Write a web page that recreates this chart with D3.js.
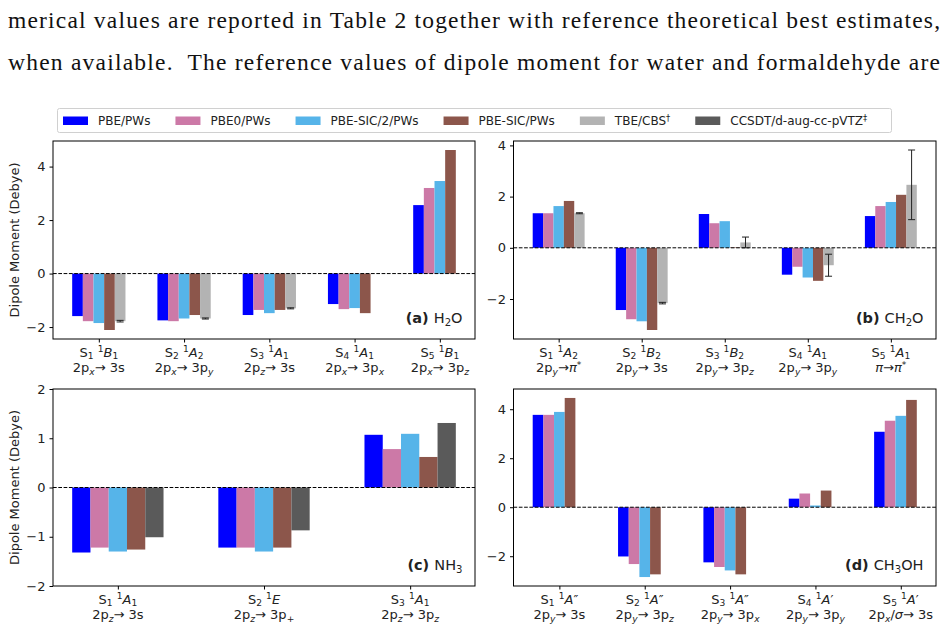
<!DOCTYPE html>
<html>
<head>
<meta charset="utf-8">
<script src="https://cdn.jsdelivr.net/npm/d3@7"></script>
<style>
  body { margin: 0; background: #fff; }
  text { white-space: pre; }
</style>
</head>
<body>
<script>
// series names and colours
const seriesNames = ["PBE/PWs", "PBE0/PWs", "PBE-SIC/2/PWs", "PBE-SIC/PWs", "TBE/CBS^†", "CCSDT/d-aug-cc-pVTZ^‡"];
const seriesColors = ["#0000ff", "#cc79a7", "#56b4e9", "#8c564b", "#b3b3b3", "#5a5a5a"];

// (a) H2O
const h2oLabels = [["S_1 ^1$B$_1", "2p_x→ 3s"], ["S_2 ^1$A$_2", "2p_x→ 3p_y"], ["S_3 ^1$A$_1", "2p_z→ 3s"],
                   ["S_4 ^1$A$_1", "2p_x→ 3p_x"], ["S_5 ^1$B$_1", "2p_x→ 3p_z"]];
const h2oPBE  = [-1.59, -1.75, -1.55, -1.14, 2.56];
const h2oPBE0 = [-1.78, -1.78, -1.36, -1.33, 3.20];
const h2oSIC2 = [-1.85, -1.68, -1.48, -1.29, 3.46];
const h2oSIC  = [-2.11, -1.55, -1.36, -1.48, 4.62];
const h2oTBE  = [-1.78, -1.68, -1.30, null, null];
const h2oTBEerr = [0.03, 0.02, 0.02, null, null];

// (b) CH2O
const ch2oLabels = [["S_1 ^1$A$_2", "2p_y→$π$^*"], ["S_2 ^1$B$_2", "2p_y→ 3s"], ["S_3 ^1$B$_2", "2p_y→ 3p_z"],
                    ["S_4 ^1$A$_1", "2p_y→ 3p_y"], ["S_5 ^1$A$_1", "$π$→$π$^*"]];
const ch2oPBE  = [1.35, -2.43, 1.32, -1.05, 1.24];
const ch2oPBE0 = [1.35, -2.79, 0.96, -0.74, 1.63];
const ch2oSIC2 = [1.63, -2.87, 1.04, -1.16, 1.79];
const ch2oSIC  = [1.83, -3.21, 0.02, -1.29, 2.07];
const ch2oTBE  = [1.35, -2.16, 0.21, -0.68, 2.46];
const ch2oTBEerr = [0.02, 0.03, 0.21, 0.43, 1.36];

// (c) NH3
const nh3Labels = [["S_1 ^1$A$_1", "2p_z→ 3s"], ["S_2 ^1$E$", "2p_z→ 3p_+"], ["S_3 ^1$A$_1", "2p_z→ 3p_z"]];
const nh3PBE   = [-1.32, -1.22, 1.07];
const nh3PBE0  = [-1.22, -1.22, 0.78];
const nh3SIC2  = [-1.30, -1.30, 1.09];
const nh3SIC   = [-1.26, -1.22, 0.62];
const nh3CCSDT = [-1.01, -0.87, 1.31];

// (d) CH3OH
const ch3ohLabels = [["S_1 ^1$A$″", "2p_y→ 3s"], ["S_2 ^1$A$″", "2p_y→ 3p_z"], ["S_3 ^1$A$″", "2p_y→ 3p_x"],
                     ["S_4 ^1$A$′", "2p_y→ 3p_y"], ["S_5 ^1$A$′", "2p_x/$σ$→ 3s"]];
const ch3ohPBE  = [3.77, -2.01, -2.25, 0.35, 3.08];
const ch3ohPBE0 = [3.77, -2.32, -2.44, 0.56, 3.53];
const ch3ohSIC2 = [3.89, -2.85, -2.58, 0.07, 3.73];
const ch3ohSIC  = [4.46, -2.74, -2.74, 0.68, 4.38];

const barW = 0.125;
const font = "DejaVu Sans, sans-serif";

const svg = d3.select("body").append("svg")
  .attr("width", 947)
  .attr("height", 628);

// little mathtext-like writer: $..$ italic, _c subscript, ^c superscript
function richText(textSel, str, size) {
  let italic = false;
  const parts = [];
  for (let k = 0; k < str.length; k++) {
    const c = str[k];
    if (c === "$") { italic = !italic; continue; }
    if (c === "_" || c === "^") {
      const ch = str[++k];
      parts.push({ t: ch, mode: c === "_" ? "sub" : "sup", it: italic || /[a-z]/.test(ch) });
      continue;
    }
    const last = parts[parts.length - 1];
    if (last && last.mode === "" && last.it === italic) last.t += c;
    else parts.push({ t: c, mode: "", it: italic });
  }
  let cur = 0;
  parts.forEach(p => {
    const target = p.mode === "sub" ? size * 0.2 : p.mode === "sup" ? -size * 0.34 : 0;
    textSel.append("tspan")
      .attr("dy", target - cur)
      .attr("font-size", p.mode ? size * 0.7 : size)
      .attr("font-style", p.it ? "italic" : "normal")
      .text(p.t);
    cur = target;
  });
}

// top paragraph text
const para = ["merical values are reported in Table 2 together with reference theoretical best estimates,",
              "when available.  The reference values of dipole moment for water and formaldehyde are"];
svg.selectAll(".para")
  .data(para)
  .join("text")
  .attr("x", 8)
  .attr("y", (d, i) => 28 + i * 42)
  .attr("font-family", "Liberation Serif, serif")
  .attr("font-size", 23.5)
  .attr("fill", "#111")
  .attr("textLength", 932)
  .attr("lengthAdjust", "spacing")
  .text(d => d);

// legend
const legend = svg.append("g");
legend.append("rect")
  .attr("x", 57.5).attr("y", 108.5)
  .attr("width", 834).attr("height", 24)
  .attr("rx", 2)
  .attr("fill", "#fff")
  .attr("stroke", "#d0d0d0");
let lx = 63;
seriesNames.forEach((name, i) => {
  legend.append("rect")
    .attr("x", lx).attr("y", 116.5)
    .attr("width", 25).attr("height", 8.5)
    .attr("fill", seriesColors[i]);
  const t = legend.append("text")
    .attr("x", lx + 35).attr("y", 125)
    .attr("font-family", font)
    .attr("fill", "#222");
  richText(t, name, 12);
  lx = lx + 35 + t.node().getComputedTextLength() + 25;
});

// draw one panel
function panel(box, labels, series, title, formula, fixedY, showYLabel) {
  // series: array of {idx (colour), values, err}; slot = position inside the group
  const n = labels.length;
  let xmin = Infinity, xmax = -Infinity, ymin = 0, ymax = 0;
  series.forEach((s, k) => {
    s.slot = k;
    s.values.forEach((v, g) => {
      if (v == null) return;
      const c = g + (s.slot - 2) * barW;
      xmin = Math.min(xmin, c - barW / 2);
      xmax = Math.max(xmax, c + barW / 2);
      const e = s.err && s.err[g] ? s.err[g] : 0;
      ymin = Math.min(ymin, v - e);
      ymax = Math.max(ymax, v + e);
    });
  });
  const mx = (xmax - xmin) * 0.05, my = (ymax - ymin) * 0.05;

  const xScale = d3.scaleLinear()
    .domain([xmin - mx, xmax + mx])
    .range([box.x0, box.x1]);
  const yScale = d3.scaleLinear()
    .domain(fixedY || [ymin - my, ymax + my])
    .range([box.y1, box.y0]);

  const g = svg.append("g");

  // bars
  series.forEach(s => {
    g.append("g").selectAll("rect")
      .data(s.values.map((v, i) => ({ v, i })).filter(d => d.v != null))
      .join("rect")
      .attr("x", d => xScale(d.i + (s.slot - 2) * barW - barW / 2))
      .attr("width", xScale(barW) - xScale(0))
      .attr("y", d => yScale(Math.max(0, d.v)))
      .attr("height", d => Math.abs(yScale(d.v) - yScale(0)))
      .attr("fill", seriesColors[s.idx]);
  });

  // zero line
  g.append("line")
    .attr("x1", box.x0).attr("x2", box.x1)
    .attr("y1", yScale(0)).attr("y2", yScale(0))
    .attr("stroke", "#000")
    .attr("stroke-width", 1)
    .attr("stroke-dasharray", "3.7,1.6");

  // error bars
  series.filter(s => s.err).forEach(s => {
    s.values.forEach((v, i) => {
      if (v == null || s.err[i] == null) return;
      const cx = xScale(i + (s.slot - 2) * barW);
      const top = yScale(v + s.err[i]), bot = yScale(v - s.err[i]);
      g.append("line").attr("x1", cx).attr("x2", cx).attr("y1", top).attr("y2", bot)
        .attr("stroke", "#222").attr("stroke-width", 1);
      [top, bot].forEach(yy => g.append("line")
        .attr("x1", cx - 3.5).attr("x2", cx + 3.5).attr("y1", yy).attr("y2", yy)
        .attr("stroke", "#222").attr("stroke-width", 1));
    });
  });

  // frame
  g.append("rect")
    .attr("x", box.x0).attr("y", box.y0)
    .attr("width", box.x1 - box.x0).attr("height", box.y1 - box.y0)
    .attr("fill", "none")
    .attr("stroke", "#000")
    .attr("stroke-width", 1);

  // y axis
  const yTicks = fixedY ? [-2, -1, 0, 1, 2] : d3.range(-2, yScale.domain()[1], 2);
  const yAxis = g.append("g")
    .attr("transform", `translate(${box.x0},0)`)
    .call(d3.axisLeft(yScale).tickValues(yTicks).tickSize(3.5).tickPadding(4)
      .tickFormat(d => d < 0 ? "−" + Math.abs(d) : d));
  yAxis.select(".domain").remove();
  yAxis.selectAll("text").attr("font-family", font).attr("font-size", 13).attr("fill", "#222");

  // x axis ticks + two-line labels
  const xAxis = g.append("g")
    .attr("transform", `translate(0,${box.y1})`)
    .call(d3.axisBottom(xScale).tickValues(d3.range(n)).tickSize(3.5).tickFormat(""));
  xAxis.select(".domain").remove();
  labels.forEach((lines, i) => {
    lines.forEach((line, j) => {
      const t = g.append("text")
        .attr("x", xScale(i))
        .attr("y", box.y1 + 17.5 + j * 15.5)
        .attr("text-anchor", "middle")
        .attr("font-family", font)
        .attr("fill", "#222");
      richText(t, line, 13);
    });
  });

  // panel title
  const tt = g.append("text")
    .attr("x", box.x1 - 12.5)
    .attr("y", box.y1 - 16)
    .attr("text-anchor", "end")
    .attr("font-family", font)
    .attr("fill", "#222");
  tt.append("tspan").attr("font-weight", "bold").attr("font-size", 14.5).text(title + " ");
  richText(tt, formula, 14.5);

  if (showYLabel) {
    g.append("text")
      .attr("transform", `translate(19,${(box.y0 + box.y1) / 2}) rotate(-90)`)
      .attr("text-anchor", "middle")
      .attr("font-family", font)
      .attr("font-size", 13)
      .attr("fill", "#222")
      .text("Dipole Moment (Debye)");
  }
}

panel({ x0: 53, x1: 475, y0: 141, y1: 339 }, h2oLabels, [
  { idx: 0, values: h2oPBE }, { idx: 1, values: h2oPBE0 }, { idx: 2, values: h2oSIC2 },
  { idx: 3, values: h2oSIC }, { idx: 4, values: h2oTBE, err: h2oTBEerr }
], "(a)", "H_2O", null, true);

panel({ x0: 513.5, x1: 936, y0: 141, y1: 339 }, ch2oLabels, [
  { idx: 0, values: ch2oPBE }, { idx: 1, values: ch2oPBE0 }, { idx: 2, values: ch2oSIC2 },
  { idx: 3, values: ch2oSIC }, { idx: 4, values: ch2oTBE, err: ch2oTBEerr }
], "(b)", "CH_2O", null, false);

panel({ x0: 53, x1: 475, y0: 389, y1: 586 }, nh3Labels, [
  { idx: 0, values: nh3PBE }, { idx: 1, values: nh3PBE0 }, { idx: 2, values: nh3SIC2 },
  { idx: 3, values: nh3SIC }, { idx: 5, values: nh3CCSDT }
], "(c)", "NH_3", [-2, 2], true);

panel({ x0: 513.5, x1: 936, y0: 389, y1: 586 }, ch3ohLabels, [
  { idx: 0, values: ch3ohPBE }, { idx: 1, values: ch3ohPBE0 }, { idx: 2, values: ch3ohSIC2 },
  { idx: 3, values: ch3ohSIC }
], "(d)", "CH_3OH", null, false);
</script>
</body>
</html>
